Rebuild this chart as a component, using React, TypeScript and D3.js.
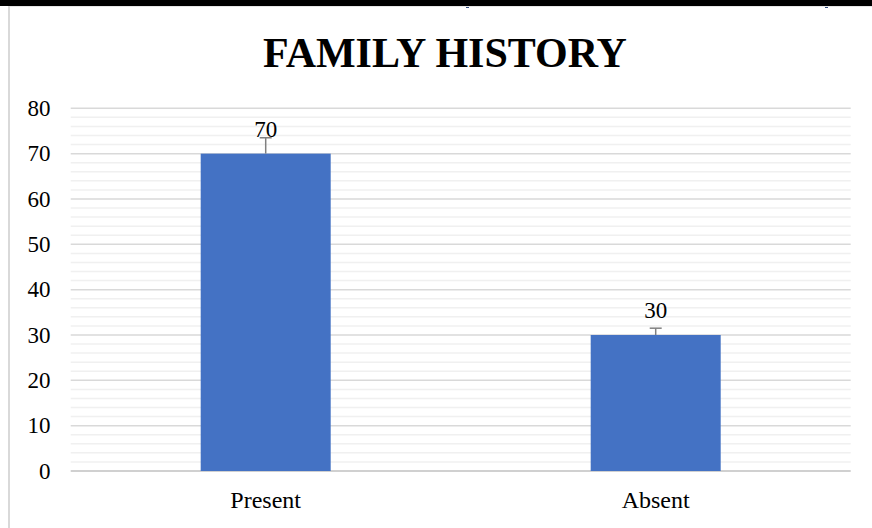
import React from "react";
import * as d3 from "d3";

const categories = ["Present", "Absent"];
const values = [70, 30];
const errorPct = 0.05;
const yTicks = [0, 10, 20, 30, 40, 50, 60, 70, 80];
const title = "FAMILY HISTORY";

const W = 872;
const H = 528;
const plotLeft = 70.7;
const plotRight = 850.7;
const plotTop = 108.3;
const plotBottom = 471;

export default function App() {
  const y = d3.scaleLinear().domain([0, 80]).range([plotBottom, plotTop]);
  const x = d3
    .scaleBand<string>()
    .domain(categories)
    .range([plotLeft, plotRight])
    .paddingInner(2 / 3)
    .paddingOuter(1 / 3);
  const minorTicks = d3.range(0, 81, 2).filter((v) => v % 10 !== 0);
  const font = "'Liberation Serif', 'Times New Roman', serif";

  return (
    <div style={{ position: "fixed", left: 0, top: 0 }}>
      <svg width={W} height={H} style={{ display: "block", background: "#fff" }}>
        <rect x={0} y={0} width={W} height={6} fill="#000" />
        <rect x={466} y={6} width={3} height={2} fill="#2f4a7a" />
        <rect x={825} y={6} width={3} height={2} fill="#2f4a7a" />
        <line x1={9} x2={W} y1={6.5} y2={6.5} stroke="#e6e6e6" strokeWidth={1} />
        <line x1={9} x2={9} y1={6} y2={H} stroke="#d9d9d9" strokeWidth={2} />
        <text
          x={445}
          y={66.7}
          textAnchor="middle"
          fontFamily={font}
          fontWeight="bold"
          fontSize={42}
          fill="#000"
        >
          {title}
        </text>
        {minorTicks.map((t) => (
          <line
            key={"m" + t}
            x1={plotLeft}
            x2={plotRight}
            y1={y(t)}
            y2={y(t)}
            stroke="#f0f0f0"
            strokeWidth={1.5}
          />
        ))}
        {yTicks.map((t) => (
          <line
            key={"g" + t}
            x1={plotLeft}
            x2={plotRight}
            y1={y(t)}
            y2={y(t)}
            stroke={t === 0 ? "#d0d0d0" : "#d9d9d9"}
            strokeWidth={t === 0 ? 2 : 1.5}
          />
        ))}
        {yTicks.map((t) => (
          <text
            key={"t" + t}
            x={50.5}
            y={y(t)}
            dy="0.34em"
            textAnchor="end"
            fontFamily={font}
            fontSize={23}
            fill="#000"
          >
            {t}
          </text>
        ))}
        {categories.map((c, i) => {
          const v = values[i];
          const bx = x(c)!;
          const bw = x.bandwidth();
          const cx = bx + bw / 2;
          const eTop = y(v * (1 + errorPct));
          return (
            <g key={c}>
              <rect x={bx} y={y(v)} width={bw} height={y(0) - y(v)} fill="#4472c4" />
              <line x1={cx} x2={cx} y1={y(v)} y2={eTop} stroke="#808080" strokeWidth={1.5} />
              <line x1={cx - 6} x2={cx + 6} y1={eTop} y2={eTop} stroke="#808080" strokeWidth={1.5} />
              <text
                x={cx}
                y={y(v) - 17}
                textAnchor="middle"
                fontFamily={font}
                fontSize={23}
                fill="#000"
              >
                {v}
              </text>
              <text
                x={cx}
                y={508}
                textAnchor="middle"
                fontFamily={font}
                fontSize={24}
                fill="#000"
              >
                {c}
              </text>
            </g>
          );
        })}
      </svg>
    </div>
  );
}
